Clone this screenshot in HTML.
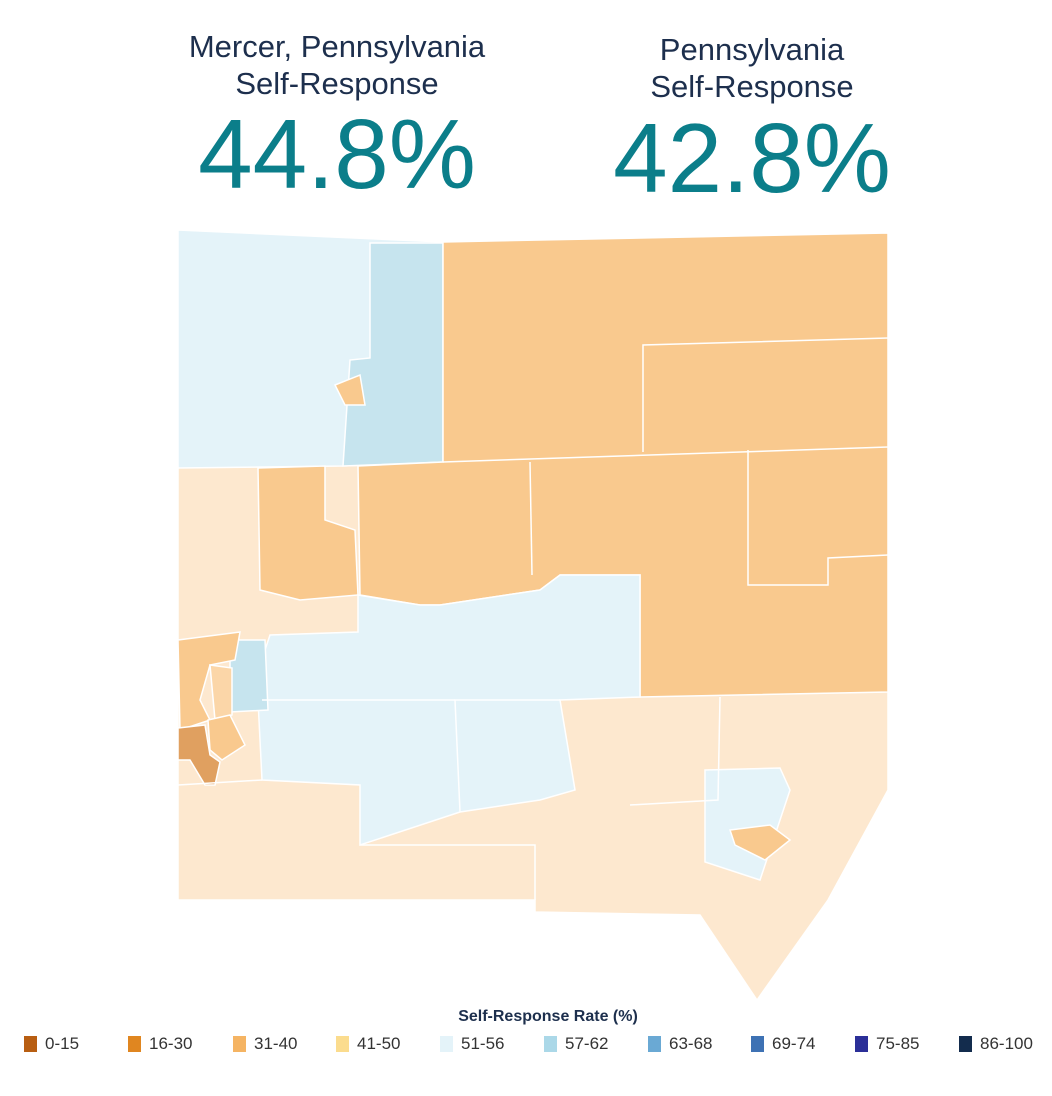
<!DOCTYPE html>
<html><head><style>
body{margin:0;background:#fff;width:1052px;height:1096px;overflow:hidden;font-family:"Liberation Sans",sans-serif;position:relative}
.t{position:absolute;text-align:center;color:#1d2f4d;font-size:31px;line-height:37px}
.b{position:absolute;text-align:center;color:#0b7e8a;font-size:98px;line-height:100px}
.lg{position:absolute;top:1034px;font-size:17px;color:#333;display:flex;align-items:center}
.lg i{display:inline-block;width:13px;height:16px;margin-right:8px}
</style></head><body>
<div class="t" style="left:137px;width:400px;top:28px">Mercer, Pennsylvania<br>Self-Response</div>
<div class="b" style="left:137px;width:400px;top:104px">44.8%</div>
<div class="t" style="left:552px;width:400px;top:31px">Pennsylvania<br>Self-Response</div>
<div class="b" style="left:552px;width:400px;top:108px">42.8%</div>
<svg width="1052" height="1096" style="position:absolute;left:0;top:0">
<g stroke="#fff" stroke-width="1.5">
<polygon fill="#fde8cf" points="178,230 443,242 888,233 888,790 828,900 757,1000 700,915 535,912 535,900 178,900"/>
<polygon fill="#e4f3f9" points="178,230 443,242 443,462 343,466 178,468"/>
<polygon fill="#c6e4ee" points="370,243 443,243 443,462 343,466 350,360 370,358"/>
<polygon fill="#f9c98e" points="443,242 888,233 888,692 640,697 640,575 560,575 540,590 440,605 420,605 360,595 358,466 443,462"/>
<polygon fill="#f9c98e" points="258,468 325,466 325,520 355,530 358,595 300,600 260,590"/>
<polygon fill="#e4f3f9" points="358,595 420,605 440,605 540,590 560,575 640,575 640,697 560,700 575,790 540,800 460,812 360,845 360,785 262,780 258,700 265,650 270,635 358,632"/>
<polygon fill="#e4f3f9" points="705,770 780,768 790,790 760,880 705,862"/>
<polygon fill="#c6e4ee" points="230,640 265,640 268,710 230,712"/>
<polygon fill="#f9c98e" points="178,640 240,632 235,660 210,665 200,700 210,720 180,730"/>
<polygon fill="#fbd6a8" points="210,665 232,668 232,715 215,720"/>
<polygon fill="#e0a060" points="178,728 205,725 210,755 220,762 215,785 205,785 190,760 178,760"/>
<polygon fill="#f9c98e" points="208,720 230,715 245,745 222,760 210,750"/>
<polygon fill="#f9c98e" points="335,385 360,375 365,405 345,405"/>
<polygon fill="#f9c98e" points="730,830 770,825 790,840 765,860 735,845"/>
<polyline fill="none" points="643,452 643,345 888,338"/>
<polyline fill="none" points="443,462 888,447"/>
<polyline fill="none" points="530,462 532,575"/>
<polyline fill="none" points="748,450 748,585 828,585 828,558 888,555"/>
<polyline fill="none" points="460,812 455,700 560,700"/>
<polyline fill="none" points="360,700 455,700"/>
<polyline fill="none" points="262,700 360,700"/>
<polyline fill="none" points="178,785 262,780"/>
<polyline fill="none" points="360,845 535,845 535,900"/>
<polyline fill="none" points="720,697 718,800 630,805"/>
</g>
</svg>
<div style="position:absolute;left:0;width:1096px;top:1008px;text-align:center;font-size:16px;font-weight:bold;color:#1d2f4d">Self-Response Rate (%)</div>
<div class="lg" style="left:24px"><i style="background:#b85e12"></i>0-15</div>
<div class="lg" style="left:128px"><i style="background:#e08620"></i>16-30</div>
<div class="lg" style="left:233px"><i style="background:#f5b463"></i>31-40</div>
<div class="lg" style="left:336px"><i style="background:#fbdc8e"></i>41-50</div>
<div class="lg" style="left:440px"><i style="background:#e4f3f9"></i>51-56</div>
<div class="lg" style="left:544px"><i style="background:#abd8e8"></i>57-62</div>
<div class="lg" style="left:648px"><i style="background:#6aa9d4"></i>63-68</div>
<div class="lg" style="left:751px"><i style="background:#3e72b4"></i>69-74</div>
<div class="lg" style="left:855px"><i style="background:#2b2f98"></i>75-85</div>
<div class="lg" style="left:959px"><i style="background:#132c4d"></i>86-100</div>
</body></html>
